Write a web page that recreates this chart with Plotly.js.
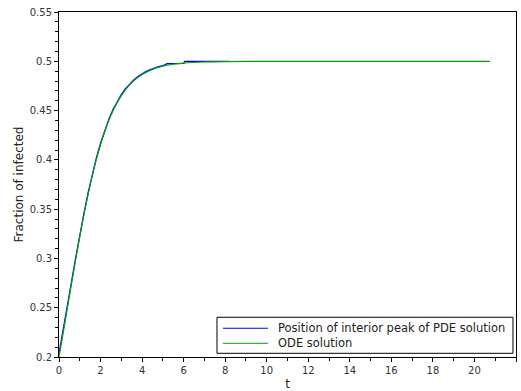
<!DOCTYPE html>
<html>
<head>
<meta charset="utf-8">
<script src="https://cdn.plot.ly/plotly-3.0.1.min.js"></script>
<style>html,body{margin:0;padding:0;background:#fff;}#chart{width:521px;height:391px;}</style>
</head>
<body>
<div id="chart"></div>
<script>
// ODE solution (green)
const odeT = [0, 0.25, 0.5, 0.75, 1, 1.25, 1.5, 1.75, 2, 2.25, 2.5, 2.75, 3, 3.5, 4, 4.5, 5, 5.5, 6, 7, 8, 10, 12, 14, 16, 18, 20, 20.75];
const odeY = [0.200, 0.2306, 0.2618, 0.2926, 0.3222, 0.3497, 0.3746, 0.3966, 0.4156, 0.4318, 0.4452, 0.4562, 0.4652, 0.4783, 0.4866, 0.4918, 0.4950, 0.4970, 0.4982, 0.4993, 0.4997, 0.5, 0.5, 0.5, 0.5, 0.5, 0.5, 0.5];

// Position of interior peak of PDE solution (blue)
const pdeT = [0, 0.2, 0.4, 0.6, 0.8, 1.0, 1.2, 1.4, 1.6, 1.8, 2.0, 2.2, 2.4, 2.6, 2.8, 3.0, 3.2, 3.4, 3.6, 3.8, 4.0, 4.2, 4.4, 4.6, 4.8, 5.0, 5.2, 5.4, 5.6, 5.8, 6.0, 6.05, 7.0, 8.2];
const pdeY = [0.2035, 0.2265, 0.2512, 0.2760, 0.3003, 0.3238, 0.3458, 0.3665, 0.3852, 0.4020, 0.4168, 0.4298, 0.4412, 0.4510, 0.4592, 0.4662, 0.4722, 0.4770, 0.4810, 0.4845, 0.4873, 0.4897, 0.4916, 0.4932, 0.4945, 0.4955, 0.4975, 0.4977, 0.4978, 0.4978, 0.4978, 0.5, 0.5, 0.5];

const seriesNames = ['Position of interior peak of PDE solution', 'ODE solution'];
const seriesColors = ['#0000ff', '#00a000'];
const xTitle = 't';
const yTitle = 'Fraction of infected';

const font = {family: 'DejaVu Sans, sans-serif', size: 10, color: '#333'};
const legFont = {family: 'DejaVu Sans, sans-serif', size: 11.5, color: '#222'};

const data = [
  {x: pdeT, y: pdeY, type: 'scatter', mode: 'lines', name: seriesNames[0],
   line: {color: seriesColors[0], width: 1.3}, showlegend: false},
  {x: odeT, y: odeY, type: 'scatter', mode: 'lines', name: seriesNames[1],
   line: {color: seriesColors[1], width: 1.2, shape: 'spline', smoothing: 0.6}, showlegend: false}
];

// Legend drawn as a boxed key in paper coordinates
const legBox = {x0: 0.3457, x1: 0.9934, y0: 0.0107, y1: 0.1152};
const legRowsY = [0.0833, 0.0397];
const legLineX = [0.3589, 0.4573];
const legTextX = 0.475;

const shapes = [
  {type: 'rect', xref: 'paper', yref: 'paper', x0: legBox.x0, x1: legBox.x1, y0: legBox.y0, y1: legBox.y1,
   line: {color: '#000', width: 1}, fillcolor: '#fff', layer: 'above'}
];
const annotations = [];
seriesNames.forEach((name, i) => {
  shapes.push({type: 'line', xref: 'paper', yref: 'paper', x0: legLineX[0], x1: legLineX[1],
    y0: legRowsY[i], y1: legRowsY[i], line: {color: seriesColors[i], width: 1}, layer: 'above'});
  annotations.push({xref: 'paper', yref: 'paper', x: legTextX, y: legRowsY[i], xanchor: 'left', yanchor: 'middle',
    text: name, showarrow: false, font: legFont});
});

const layout = {
  width: 521, height: 391,
  margin: {l: 59, r: 5, t: 12, b: 34, pad: 0},
  paper_bgcolor: '#fff', plot_bgcolor: '#fff',
  font: font,
  showlegend: false,
  shapes: shapes,
  annotations: annotations,
  xaxis: {range: [0, 22], dtick: 2, tick0: 0, showgrid: false, zeroline: false,
    showline: true, linecolor: '#000', linewidth: 1, mirror: true,
    ticks: 'outside', ticklen: 4, tickcolor: '#000',
    minor: {dtick: 1, ticks: 'outside', ticklen: 3, tickcolor: '#000', showgrid: false},
    tickfont: font,
    title: {text: xTitle, font: {family: 'DejaVu Sans, sans-serif', size: 12, color: '#222'}, standoff: 5}},
  yaxis: {range: [0.2, 0.55], dtick: 0.05, tick0: 0.2, showgrid: false, zeroline: false,
    showline: true, linecolor: '#000', linewidth: 1, mirror: true,
    ticks: 'outside', ticklen: 4, tickcolor: '#000',
    minor: {dtick: 0.01, ticks: 'outside', ticklen: 3, tickcolor: '#000', showgrid: false},
    tickfont: font,
    title: {text: yTitle, font: {family: 'DejaVu Sans, sans-serif', size: 12, color: '#222'}, standoff: 3}}
};

Plotly.newPlot('chart', data, layout, {displayModeBar: false, staticPlot: true});
</script>
</body>
</html>
